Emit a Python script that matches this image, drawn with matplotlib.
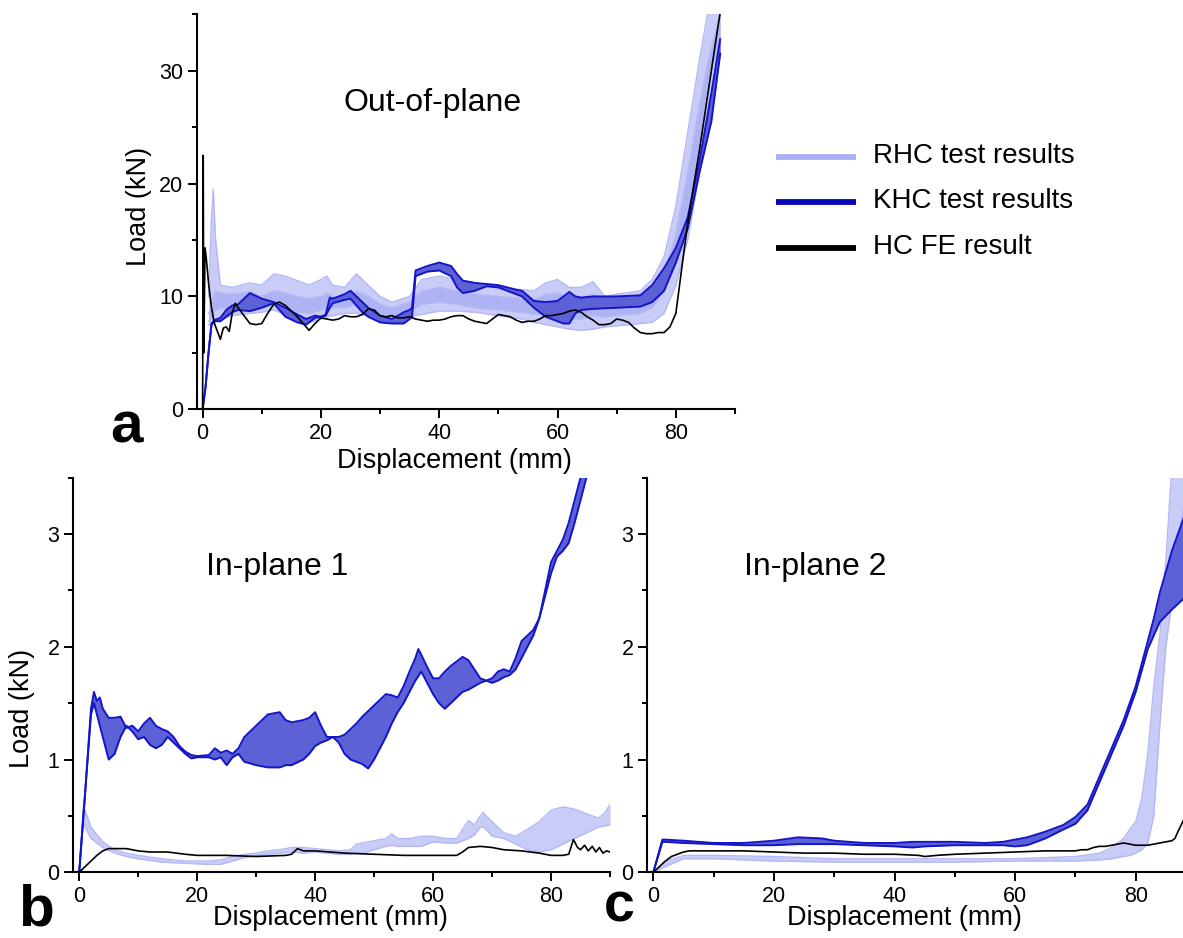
import matplotlib
matplotlib.use('Agg')
import matplotlib.pyplot as plt
from matplotlib.lines import Line2D
from matplotlib.ticker import MultipleLocator

plt.rcParams['font.family'] = ['Liberation Sans', 'DejaVu Sans']

# ---------------- data: panel a (out-of-plane) ----------------
KA_x = [0, 0.5, 1, 1.5, 2, 3, 4, 5, 6, 8, 10, 12, 14, 16, 17.5, 19, 20, 20.8, 21.5, 22,
        24, 25, 27, 28, 30, 32, 34, 35, 35.4, 36, 38, 40, 42, 43, 44, 46, 48, 50, 53, 54,
        56, 58, 60, 61, 62, 63, 64, 66, 70, 74, 76, 78, 80, 82, 84, 86, 87.5]
KA_hi = [0, 2, 5, 7.6, 7.9, 8.1, 8.8, 9.2, 9.3, 10.3, 9.8, 9.5, 9.0, 8.4, 8.0, 8.3, 8.2, 8.4, 9.9, 9.8,
         10.2, 10.5, 9.5, 9.0, 8.3, 8.0, 8.6, 8.8, 9.0, 12.3, 12.7, 13.0, 12.7, 12.0, 11.4, 11.2, 11.1, 11.0, 10.6, 10.5,
         9.6, 9.5, 9.6, 10.0, 10.4, 10.0, 9.9, 10.0, 10.0, 10.1, 11.0, 12.5, 14.3, 17.0, 22.0, 28.0, 32.8]
KA_lo = [0, 2, 5, 7.5, 7.8, 7.8, 8.2, 8.6, 8.8, 8.7, 9.0, 9.4, 8.2, 7.7, 7.5, 8.1, 8.2, 8.3, 9.0, 9.4,
         9.7, 9.8, 8.6, 8.2, 7.7, 7.6, 7.6, 8.0, 8.2, 11.8, 12.2, 12.3, 11.8, 10.8, 10.3, 10.5, 10.9, 10.8, 10.2, 10.0,
         9.0, 8.2, 7.8, 7.6, 7.6, 8.5, 8.8, 8.9, 9.0, 9.1, 9.5, 10.5, 13.0, 16.0, 21.0, 25.5, 31.5]

RA_x = [1, 1.5, 1.8, 2.2, 3, 5, 8, 10, 12, 14, 16, 18, 20, 21, 22, 24, 26, 28, 30, 32,
        35, 37, 40, 43, 46, 50, 54, 56, 58, 60, 62, 64, 66, 68, 70, 74, 76, 78, 80, 82,
        84, 85.5, 87.5]
RA_hi = [10, 17, 19.5, 15, 11, 10.8, 11.2, 11.0, 12.0, 11.8, 11.4, 11.0, 11.5, 11.8, 11.0, 10.8, 12.0, 11.0, 10.0, 9.5,
         10.0, 11.5, 11.8, 11.5, 11.2, 10.8, 10.6, 10.5, 11.2, 11.5, 10.8, 10.8, 11.3, 10.0, 10.2, 10.5, 11.5, 13.5, 18.0, 24.5,
         31.0, 35.5, 36.0]
RA_mhi = [8.5, 9, 10, 10.5, 10.3, 10.2, 10.4, 10.0, 10.5, 10.3, 10.0, 9.8, 10.0, 10.3, 10.0, 9.8, 10.5, 10.0, 9.3, 9.0,
          9.5, 10.5, 10.8, 10.5, 10.2, 10.0, 9.8, 9.7, 10.2, 10.3, 9.9, 9.9, 10.2, 9.4, 9.5, 9.8, 10.5, 12.0, 15.5, 21.0,
          27.0, 31.0, 35.0]
RA_mlo = [7.8, 8.0, 8.5, 8.8, 9.0, 9.0, 9.2, 9.2, 9.5, 9.2, 8.6, 8.5, 8.8, 9.0, 9.0, 9.0, 9.3, 9.0, 8.5, 8.3,
          8.7, 9.3, 9.5, 9.3, 9.0, 8.8, 8.6, 8.4, 8.5, 8.3, 8.0, 8.0, 8.3, 8.2, 8.3, 8.5, 9.0, 10.5, 13.0, 17.5,
          23.5, 29.0, 33.0]
RA_lo = [7.5, 7.5, 7.6, 7.8, 8.0, 8.3, 8.5, 8.6, 8.8, 8.4, 7.8, 7.7, 8.0, 8.2, 8.3, 8.5, 8.5, 8.3, 8.1, 8.0,
         8.2, 8.4, 8.7, 8.7, 8.6, 8.3, 8.0, 7.7, 7.5, 7.3, 7.1, 7.0, 7.1, 7.3, 7.4, 7.6, 7.7, 8.5, 11.0, 15.0,
         21.0, 26.0, 31.5]

HA_x = [0, 0.05, 0.1, 0.2, 0.4, 0.6, 1, 1.5, 2, 2.5,
        3, 3.5, 4, 4.5, 5, 5.5, 6, 7, 8, 9,
        10, 11, 12, 13, 14, 15, 16, 17, 18, 19,
        20, 21, 22, 23, 24, 25, 26, 27, 28, 29,
        30, 31, 32, 33, 34, 35, 36, 37, 38, 39,
        40, 41, 42, 43, 44, 45, 46, 47, 48, 49,
        50, 51, 52, 53, 54, 55, 56, 57, 58, 59,
        60, 61, 62, 63, 64, 65, 66, 67, 68, 69,
        70, 71, 72, 73, 74, 75, 76, 77, 78, 79,
        80, 81, 82, 83, 84, 85, 86, 87, 87.6]
HA_y = [0, 12, 22.5, 5, 14.3, 13.5, 11.2, 9.0, 7.6, 6.9,
        6.2, 7.2, 7.3, 6.9, 8.5, 9.4, 9.0, 8.3, 7.6, 7.5,
        7.6, 8.5, 9.3, 9.5, 9.2, 8.7, 8.2, 7.6, 7.0, 7.6,
        8.1, 8.0, 7.9, 8.0, 8.3, 8.2, 8.2, 8.4, 8.9, 8.8,
        8.3, 8.2, 8.3, 8.1, 8.1, 8.2, 8.0, 7.9, 7.8, 7.9,
        7.9, 8.0, 8.2, 8.3, 8.3, 8.0, 7.8, 7.7, 7.6, 8.0,
        8.4, 8.3, 8.2, 7.9, 7.7, 7.8, 7.8, 8.0, 8.3, 8.3,
        8.4, 8.5, 8.7, 8.8, 8.6, 8.2, 7.9, 7.5, 7.5, 7.6,
        8.0, 7.9, 7.7, 7.2, 6.8, 6.7, 6.7, 6.8, 6.8, 7.3,
        8.5, 12.5, 16.5, 19.8, 23.0, 26.5, 30.0, 33.5, 35.5]

# ---------------- data: panel b (in-plane 1) ----------------
KB_x = [0, 1, 2, 2.5, 3, 3.5, 4, 5, 6, 7, 8, 9, 10, 11, 12, 13, 14, 15, 16, 17,
        18, 19, 20, 22, 23, 24, 25, 26, 27, 28, 30, 32, 34, 35, 36, 38, 39, 40, 41, 42,
        43, 44, 45, 46, 47, 48, 49, 50, 51, 52, 53, 54, 55, 56, 57, 57.5, 58, 59, 60, 61,
        62, 63, 64, 65, 66, 67, 68, 69, 70, 71, 72, 73, 74, 75, 76, 77, 78, 79, 80, 81,
        82, 83, 84, 85, 86]
KB_hi = [0, 0.7, 1.45, 1.6, 1.52, 1.55, 1.45, 1.37, 1.37, 1.38, 1.28, 1.3, 1.25, 1.32, 1.37, 1.3, 1.27, 1.25, 1.2, 1.12,
         1.07, 1.04, 1.03, 1.04, 1.1, 1.06, 1.08, 1.05, 1.1, 1.2, 1.3, 1.4, 1.42, 1.35, 1.33, 1.35, 1.37, 1.42, 1.3, 1.2,
         1.2, 1.2, 1.22, 1.27, 1.32, 1.38, 1.43, 1.48, 1.53, 1.58, 1.57, 1.55, 1.65, 1.78, 1.9, 1.98, 1.93, 1.82, 1.72, 1.72,
         1.78, 1.83, 1.87, 1.91, 1.88, 1.8, 1.72, 1.7, 1.72, 1.78, 1.8, 1.78, 1.9, 2.05, 2.1, 2.15, 2.25, 2.5, 2.75, 2.85,
         2.95, 3.1, 3.3, 3.5, 3.7]
KB_lo = [0, 0.7, 1.4, 1.5, 1.4, 1.3, 1.2, 1.0, 1.05, 1.2, 1.3, 1.25, 1.18, 1.2, 1.13, 1.1, 1.13, 1.2, 1.15, 1.1,
         1.05, 1.01, 1.02, 1.02, 1.0, 1.02, 0.95, 1.02, 1.05, 0.98, 0.95, 0.93, 0.93, 0.95, 0.95, 1.0, 1.05, 1.12, 1.15, 1.17,
         1.2, 1.15, 1.05, 1.0, 0.98, 0.96, 0.92, 1.0, 1.1, 1.2, 1.32, 1.42, 1.5, 1.6, 1.7, 1.74, 1.78, 1.68, 1.58, 1.5,
         1.45, 1.5, 1.55, 1.6, 1.62, 1.65, 1.68, 1.7, 1.68, 1.7, 1.73, 1.75, 1.8, 1.9, 2.0, 2.1, 2.25, 2.45, 2.65, 2.8,
         2.85, 2.92, 3.1, 3.3, 3.5]

RB_x = [0, 0.7, 1, 2, 4, 6, 8, 10, 14, 18, 22, 24, 26, 28, 30, 32, 34, 36, 38, 40,
        42, 44, 46, 47, 48, 50, 52, 53, 54, 56, 58, 60, 62, 64, 65, 66, 67, 68, 68.5, 69,
        70, 71, 72, 74, 76, 78, 80, 82, 84, 86, 88, 89, 90]
RB_hi = [0, 0.58, 0.55, 0.4, 0.27, 0.2, 0.17, 0.15, 0.12, 0.1, 0.1, 0.11, 0.14, 0.16, 0.17, 0.19, 0.2, 0.22, 0.22, 0.21,
         0.2, 0.19, 0.2, 0.25, 0.26, 0.28, 0.3, 0.34, 0.3, 0.3, 0.32, 0.32, 0.3, 0.3, 0.38, 0.46, 0.42, 0.5, 0.53, 0.5,
         0.45, 0.4, 0.35, 0.32, 0.38, 0.45, 0.55, 0.58, 0.56, 0.52, 0.48, 0.52, 0.6]
RB_lo = [0, 0.45, 0.4, 0.3, 0.22, 0.17, 0.14, 0.12, 0.09, 0.08, 0.07, 0.07, 0.1, 0.13, 0.15, 0.16, 0.17, 0.18, 0.17, 0.18,
         0.17, 0.16, 0.16, 0.17, 0.17, 0.2, 0.23, 0.24, 0.23, 0.23, 0.23, 0.27, 0.26, 0.26, 0.28, 0.3, 0.33, 0.4, 0.4, 0.38,
         0.32, 0.31, 0.3, 0.25, 0.2, 0.18, 0.2, 0.25, 0.3, 0.35, 0.4, 0.41, 0.42]

HB_x = [0, 1, 2, 3, 4, 5, 6, 8, 9, 10, 12, 15, 18, 20, 25, 30, 35, 36, 37, 38,
        40, 45, 50, 55, 60, 64, 65, 66, 68, 70, 72, 75, 78, 80, 82, 83, 83.8, 84.5, 85, 85.7,
        86.3, 87, 87.6, 88.2, 88.8, 89.4, 90]
HB_y = [0, 0.05, 0.1, 0.15, 0.19, 0.21, 0.21, 0.21, 0.2, 0.19, 0.18, 0.18, 0.16, 0.15, 0.15, 0.14, 0.15, 0.16, 0.21, 0.19,
        0.19, 0.17, 0.16, 0.15, 0.15, 0.15, 0.18, 0.22, 0.23, 0.22, 0.2, 0.19, 0.17, 0.15, 0.15, 0.16, 0.29, 0.22, 0.2, 0.24,
        0.19, 0.23, 0.18, 0.22, 0.17, 0.19, 0.18]

# ---------------- data: panel c (in-plane 2) ----------------
KC_x = [0, 1.5, 2, 5, 10, 15, 20, 24, 28, 30, 35, 40, 43, 45, 50, 55, 58, 60, 62, 65,
        68, 70, 72, 74, 76, 78, 80, 82, 83, 84, 86, 88, 90]
KC_hi = [0, 0.29, 0.29, 0.28, 0.26, 0.26, 0.28, 0.31, 0.3, 0.28, 0.26, 0.26, 0.27, 0.27, 0.27, 0.26, 0.27, 0.29, 0.31, 0.36,
         0.42, 0.49, 0.6, 0.85, 1.1, 1.35, 1.65, 2.05, 2.25, 2.48, 2.85, 3.15, 3.4]
KC_lo = [0, 0.27, 0.27, 0.26, 0.25, 0.24, 0.24, 0.25, 0.25, 0.25, 0.24, 0.23, 0.22, 0.23, 0.24, 0.24, 0.24, 0.23, 0.24, 0.3,
         0.38, 0.43, 0.55, 0.8, 1.05, 1.3, 1.6, 1.98, 2.1, 2.22, 2.33, 2.43, 2.6]

RC_x = [0, 2, 5, 10, 20, 30, 40, 50, 60, 70, 74, 76, 78, 79, 80, 81, 82, 83, 84, 85,
        86, 87, 88, 90]
RC_hi = [0, 0.1, 0.15, 0.15, 0.14, 0.12, 0.12, 0.12, 0.12, 0.14, 0.17, 0.22, 0.3, 0.38, 0.45, 0.65, 1.05, 1.65, 2.1, 2.77,
         3.6, 3.9, 4.0, 4.1]
RC_lo = [0, 0.05, 0.12, 0.12, 0.1, 0.09, 0.09, 0.09, 0.1, 0.1, 0.11, 0.12, 0.14, 0.15, 0.17, 0.2, 0.26, 0.5, 1.3, 2.0,
         2.4, 2.9, 3.25, 3.8]

HC_x = [0, 1, 2, 3, 4, 5, 6, 10, 15, 20, 25, 30, 35, 40, 44, 45, 47, 50, 55, 60,
        65, 70, 71, 72, 73, 74, 75, 76, 77, 78, 79, 80, 81, 82, 83, 84, 85, 86, 86.5, 87,
        88, 89, 90]
HC_y = [0, 0.05, 0.1, 0.14, 0.16, 0.18, 0.19, 0.19, 0.19, 0.18, 0.17, 0.17, 0.16, 0.16, 0.15, 0.14, 0.15, 0.16, 0.17, 0.18,
        0.19, 0.19, 0.2, 0.2, 0.22, 0.23, 0.23, 0.24, 0.25, 0.26, 0.25, 0.24, 0.24, 0.24, 0.25, 0.26, 0.27, 0.28, 0.3, 0.36,
        0.47, 0.5, 0.55]

LEGEND_LABELS = ['RHC test results', 'KHC test results', 'HC FE result']
TITLES = ['Out-of-plane', 'In-plane 1', 'In-plane 2']
X_LABEL = 'Displacement (mm)'
Y_LABEL = 'Load (kN)'

# ---------------- styling ----------------
RHC_FILL = '#959bf0'
RHC_EDGE = '#b4b8f6'
RHC_LEG = '#aab0f5'
KHC_FILL = '#5d61d6'
KHC_EDGE = '#1414c8'
KHC_LEG = '#0808b8'

W, H = 1183, 938
fig = plt.figure(figsize=(W / 100, H / 100), dpi=100)


def box(l, t, r, b):
    return [l / W, 1 - b / H, (r - l) / W, (b - t) / H]


def fx(x):
    return x / W


def fy(y):
    return 1 - y / H


ax_a = fig.add_axes(box(196.7, 14.3, 735.0, 409.3))
ax_b = fig.add_axes(box(73.3, 477.6, 610.0, 872.3))
ax_c = fig.add_axes(box(647.3, 477.6, 1196.0, 872.3))


def style(ax, ytop, ymaj):
    ax.set_xlim(-1, 90)
    ax.set_ylim(0, ytop)
    for s in ['top', 'right']:
        ax.spines[s].set_visible(False)
    for s in ['left', 'bottom']:
        ax.spines[s].set_linewidth(1.5)
    ax.xaxis.set_major_locator(MultipleLocator(20))
    ax.xaxis.set_minor_locator(MultipleLocator(10))
    ax.yaxis.set_major_locator(MultipleLocator(ymaj))
    ax.yaxis.set_minor_locator(MultipleLocator(ymaj / 2))
    ax.tick_params(which='major', direction='out', length=6.5, width=1.4,
                   labelsize=15.5, pad=3.4)
    ax.tick_params(which='minor', direction='out', length=3.5, width=1.4)


def rhc(ax, x, hi, lo, alpha=0.5):
    ax.fill_between(x, lo, hi, color=RHC_FILL, alpha=alpha, lw=0, zorder=1)
    ax.plot(x, hi, color=RHC_EDGE, lw=1.0, zorder=1.1)
    ax.plot(x, lo, color=RHC_EDGE, lw=1.0, zorder=1.1)


def khc(ax, x, hi, lo):
    ax.fill_between(x, lo, hi, color=KHC_FILL, lw=0, zorder=2)
    ax.plot(x, hi, color=KHC_EDGE, lw=1.4, zorder=2.1)
    ax.plot(x, lo, color=KHC_EDGE, lw=1.4, zorder=2.1)


# panel a
style(ax_a, 35, 10)
rhc(ax_a, RA_x, RA_hi, RA_mlo, alpha=0.5)
rhc(ax_a, RA_x, RA_mhi, RA_lo, alpha=0.5)
khc(ax_a, KA_x, KA_hi, KA_lo)
ax_a.plot(HA_x, HA_y, color='black', lw=1.2, zorder=3)

# panel b
style(ax_b, 3.5, 1)
rhc(ax_b, RB_x, RB_hi, RB_lo, alpha=0.5)
khc(ax_b, KB_x, KB_hi, KB_lo)
ax_b.plot(HB_x, HB_y, color='black', lw=1.2, zorder=3)

# panel c
style(ax_c, 3.5, 1)
rhc(ax_c, RC_x, RC_hi, RC_lo, alpha=0.5)
khc(ax_c, KC_x, KC_hi, KC_lo)
ax_c.plot(HC_x, HC_y, color='black', lw=1.2, zorder=3)

# titles inside panels
fig.text(fx(433), fy(111), TITLES[0], fontsize=23, ha='center', va='baseline')
fig.text(fx(277), fy(575), TITLES[1], fontsize=23, ha='center', va='baseline')
fig.text(fx(815), fy(575), TITLES[2], fontsize=23, ha='center', va='baseline')

# axis labels
fig.text(fx(454), fy(467.5), X_LABEL, fontsize=19.5, ha='center', va='baseline')
fig.text(fx(330), fy(925), X_LABEL, fontsize=19.5, ha='center', va='baseline')
fig.text(fx(904), fy(925), X_LABEL, fontsize=19.5, ha='center', va='baseline')
fig.text(fx(139), fy(206), Y_LABEL, fontsize=19.5, ha='center', va='center', rotation=90)
fig.text(fx(22), fy(708), Y_LABEL, fontsize=19.5, ha='center', va='center', rotation=90)

# panel letters
fig.text(fx(126.4), fy(442), 'a', fontsize=42, fontweight='bold', ha='center', va='baseline')
fig.text(fx(36), fy(925), 'b', fontsize=42, fontweight='bold', ha='center', va='baseline')
fig.text(fx(619), fy(921), 'c', fontsize=40, fontweight='bold', ha='center', va='baseline')

# legend
leg_colors = [RHC_LEG, KHC_LEG, 'black']
leg_y = [157.3, 202.3, 247.7]
for lab, col, yy in zip(LEGEND_LABELS, leg_colors, leg_y):
    fig.add_artist(Line2D([fx(776), fx(856)], [fy(yy), fy(yy)], color=col, lw=4.2,
                          transform=fig.transFigure, solid_capstyle='butt'))
    fig.text(fx(873), fy(yy - 1), lab, fontsize=20, ha='left', va='center')

fig.savefig('out.png', dpi=100)
